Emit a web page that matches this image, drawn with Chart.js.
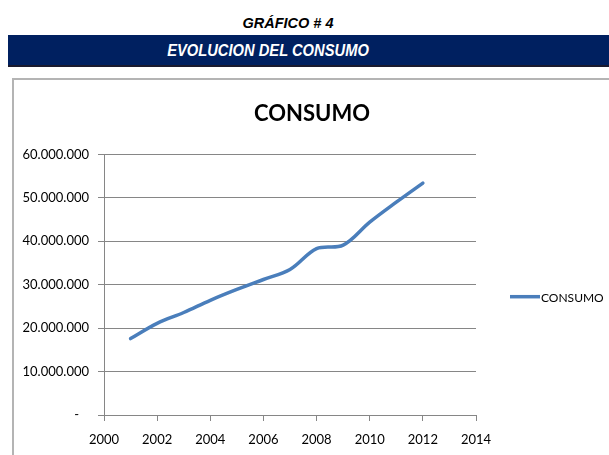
<!DOCTYPE html>
<html>
<head>
<meta charset="utf-8">
<script src="https://cdn.jsdelivr.net/npm/chart.js@4.4.0/dist/chart.umd.min.js"></script>
<style>
  html, body { margin: 0; padding: 0; background: #fff; width: 609px; height: 455px; overflow: hidden; }
  .page { position: relative; width: 609px; height: 455px; }
  .num { position: absolute; left: 188px; width: 200px; top: 15px; text-align: center; line-height: 20px;
         font: italic bold 14.5px "Liberation Sans", sans-serif; color: #000; }
  .band { position: absolute; left: 8px; top: 35px; width: 610px; height: 32px; background: #002060;
          border-bottom: 2px solid #1a1a2e; box-sizing: border-box; }
  .band span { position: absolute; left: 110px; width: 300px; top: 7px; text-align: center; line-height: 24px;
               white-space: nowrap; transform: scaleX(0.92);
               font: italic bold 16px "Liberation Sans", sans-serif; color: #fff; }
  .frame { position: absolute; left: 12px; top: 78px; width: 620px; height: 400px;
           border: 2px solid #b4b4b4; box-sizing: border-box; }
  .wrap { position: absolute; left: 15px; top: 81px; width: 594px; height: 374px; }
</style>
</head>
<body>
<div class="page">
  <div class="num">GRÁFICO # 4</div>
  <div class="band"><span>EVOLUCION DEL CONSUMO</span></div>
  <div class="frame"></div>
  <div class="wrap"><canvas id="chart"></canvas></div>
</div>
<script>
// ---- datos ----
const years = [2001, 2002, 2003, 2004, 2005, 2006, 2007, 2008, 2009, 2010, 2011, 2012];
const consumo = [17600000, 21100000, 23600000, 26400000, 28900000, 31200000, 33500000,
                 38300000, 39100000, 44400000, 49000000, 53400000];
const xTicks = [2000, 2002, 2004, 2006, 2008, 2010, 2012, 2014];
const yTicks = [0, 10000000, 20000000, 30000000, 40000000, 50000000, 60000000];
const serieNombre = "CONSUMO";

const FONT = "Lato, 'Open Sans', sans-serif";
const AZUL = "#4a7ebb";

// formato con puntos de miles, cero como guion
function fmtMiles(v) {
  if (v === 0) return "-   ";
  return String(Math.round(v)).replace(/\B(?=(\d{3})+(?!\d))/g, ".");
}

// leyenda a la derecha, al estilo de Excel (linea pegada al texto)
const leyendaExcel = {
  id: "leyendaExcel",
  afterDraw(chart) {
    const { ctx, chartArea } = chart;
    const x = chartArea.right + 34;
    const y = (chartArea.top + chartArea.bottom) / 2 + 12;
    ctx.save();
    ctx.strokeStyle = AZUL;
    ctx.lineWidth = 3.5;
    ctx.beginPath();
    ctx.moveTo(x, y);
    ctx.lineTo(x + 30, y);
    ctx.stroke();
    ctx.fillStyle = "#000";
    ctx.font = "12px " + FONT;
    ctx.textBaseline = "middle";
    ctx.fillText(serieNombre, x + 31, y + 1);
    ctx.restore();
  }
};

const points = years.map((y, i) => ({ x: y, y: consumo[i] }));

new Chart(document.getElementById("chart"), {
  type: "line",
  data: {
    datasets: [{
      label: serieNombre,
      data: points,
      borderColor: AZUL,
      backgroundColor: AZUL,
      borderWidth: 3.5,
      pointRadius: 0,
      tension: 0.35,
      borderCapStyle: "round"
    }]
  },
  options: {
    responsive: true,
    maintainAspectRatio: false,
    animation: false,
    layout: { padding: 0 },
    plugins: {
      title: {
        display: true,
        text: "CONSUMO",
        color: "#000",
        font: { family: FONT, size: 22, weight: "bold" },
        padding: { top: 20, bottom: 27 }
      },
      legend: { display: false },
      tooltip: { enabled: false }
    },
    scales: {
      x: {
        type: "linear",
        min: 2000,
        max: 2014,
        afterBuildTicks: (s) => { s.ticks = xTicks.map(v => ({ value: v })); },
        // deja sitio a la derecha para la leyenda sin mover el título
        afterFit: (s) => { s.height = 40; s.paddingRight = 133; },
        ticks: {
          color: "#000",
          font: { family: FONT, size: 13 },
          padding: 11,
          maxRotation: 0,
          callback: (v) => String(v)
        },
        grid: { drawOnChartArea: false, drawTicks: true, tickLength: 6, color: "#868686" },
        border: { color: "#868686", width: 1 }
      },
      y: {
        min: 0,
        max: 60000000,
        afterBuildTicks: (s) => { s.ticks = yTicks.map(v => ({ value: v })); },
        afterFit: (s) => { s.width = 89; },
        ticks: {
          color: "#000",
          font: { family: FONT, size: 13 },
          padding: 9,
          callback: (v) => fmtMiles(v)
        },
        grid: { color: "#868686", tickLength: 6 },
        border: { color: "#868686", width: 1 }
      }
    }
  },
  plugins: [leyendaExcel]
});
</script>
</body>
</html>
